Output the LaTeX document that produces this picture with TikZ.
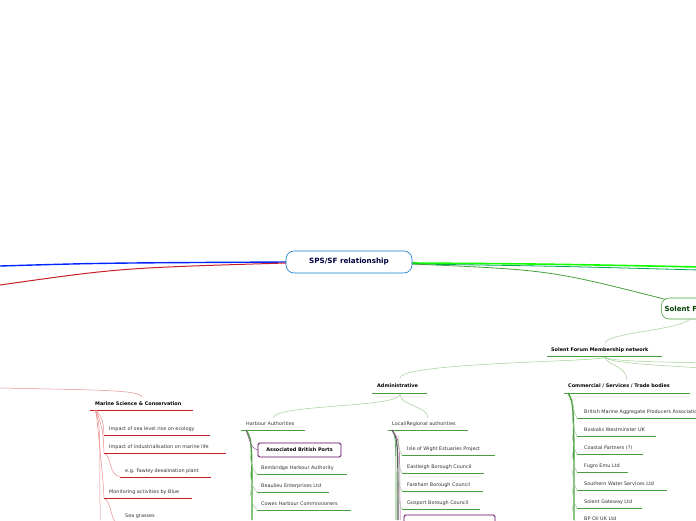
\documentclass[tikz,border=0pt]{standalone}
\usepackage{fontspec}
\setmainfont{DejaVu Sans}
\definecolor{ugreen}{RGB}{70,160,60}
\definecolor{ured}{RGB}{200,30,40}
\definecolor{lgreen}{RGB}{160,205,150}
\definecolor{lred}{RGB}{230,140,140}
\begin{document}
\begin{tikzpicture}[x=1pt,y=-1pt,
  lbl/.style={font=\fontsize{4.9}{5}\selectfont,text=black!80,anchor=west,inner sep=0pt},
  hd/.style={lbl,font=\fontsize{4.9}{5}\selectfont\bfseries,text=black},
  gl/.style={draw=ugreen,line width=0.9pt},
  rl/.style={draw=ured,line width=0.9pt},
  gc/.style={draw=lgreen,line width=0.5pt},
  rc/.style={draw=lred,line width=0.5pt}]
\useasboundingbox (0,0) rectangle (696,520);
\clip (0,0) rectangle (696,520);
% main branches
\draw[blue!85!cyan,line width=1.4pt] (0,266) .. controls (100,263) .. (286,262);
\draw[ured,line width=1pt] (0,285) .. controls (120,268) .. (286,263);
\draw[green!90!lime,line width=1.6pt] (412,263) .. controls (550,264) .. (700,267);
\draw[teal!70!green,line width=0.8pt] (412,264) .. controls (550,266) .. (700,270);
\draw[ugreen,line width=0.8pt] (412,264) .. controls (550,270) .. (668,300);
\node[draw=cyan!60!blue,fill=white,rounded corners=8pt,line width=0.6pt,minimum width=126pt,minimum height=22pt,font=\fontsize{7.2}{8}\selectfont\bfseries,text=blue!25!black] (root) at (349,262) {SPS/SF relationship};
\node[draw=ugreen,fill=white,rounded corners=8pt,line width=0.6pt,anchor=west,minimum height=21pt,font=\fontsize{7}{8}\selectfont\bfseries,text=green!25!black,text width=100pt] (sf) at (661,308.5) {Solent Forum};
% membership
\node[hd] (mem) at (551,350) {Solent Forum Membership network};
\draw[gl] (547,356) -- (662,356);
\draw[gc] (605,343) .. controls (606,333) and (680,330) .. (690,319);
\draw[gc] (605,357) .. controls (605,362) and (402,362) .. (400,378);
\draw[gc] (605,357) .. controls (606,365) and (627,366) .. (627,380);
\draw[gc] (605,357) .. controls (608,362) and (680,362) .. (700,363);
\draw[gc] (605,357) .. controls (608,364) and (680,366) .. (700,368);
% administrative
\node[hd] (adm) at (377,386) {Administrative};
\draw[gl] (372,393) -- (427,393);
\draw[gc] (400,394) .. controls (400,408) and (275,404) .. (273,418);
\draw[gc] (400,394) .. controls (400,406) and (428,406) .. (428,418);
\node[lbl] (ha) at (246,424) {Harbour Authorities};
\draw[gl] (241,430) -- (305,430);
\node[lbl] (lr) at (392,424) {Local/Regional authorities};
\draw[gl] (388,430) -- (468,430);
% harbour items
\draw[ugreen,line width=1.4pt] (246,430) .. controls (252,440) .. (252,520);
\draw[violet!70,line width=0.5pt] (246,430) .. controls (252,448) .. (258,450);
\node[draw=violet!75!black,rounded corners=1.5pt,line width=0.9pt,minimum width=83pt,minimum height=14pt,font=\fontsize{4.9}{5}\selectfont\bfseries] (abp) at (299.5,450) {Associated British Ports};
\foreach \t/\y/\e in {Bembridge Harbour Authority/468/347,Beaulieu Enterprises Ltd/486/329,Cowes Harbour Commissioners/504/351}{
  \node[lbl] at (261,\y) {\t};
  \draw[gl] (257,\y+6) -- (\e,\y+6);
  \draw[gc] (250,\y-14) .. controls (252,\y) .. (257,\y+6);}
% local items
\draw[black!65,line width=1.2pt] (392,430) .. controls (398,440) .. (398,520);
\draw[ugreen,line width=0.6pt] (393,430) .. controls (396,440) .. (396,520);
\draw[violet!70,line width=0.5pt] (392,430) .. controls (400,440) .. (400,520);
\foreach \t/\y/\e in {Isle of Wight Estuaries Project/449/495,Eastleigh Borough Council/467/484,Fareham Borough Council/485/483,Gosport Borough Council/503/480}{
  \node[lbl] at (407,\y) {\t};
  \draw[gl] (402,\y+6) -- (\e,\y+6);
  \draw[gc] (398,\y-14) .. controls (399,\y) .. (402,\y+6);}
\draw[violet!75!black,line width=0.9pt,rounded corners=1.5pt] (404,525) -- (404,515) -- (495,515) -- (495,525);
% commercial
\node[hd] (com) at (568,386) {Commercial / Services / Trade bodies};
\draw[gl] (564,393) -- (690,393);
\draw[ugreen,line width=1.4pt] (568,393) .. controls (574,403) .. (574,520);
\foreach \t/\y/\e in {British Marine Aggregate Producers Association/412/720,Boskalis Westminster UK/430/656,Coastal Partners (?)/448/643,Fugro Emu Ltd/466/628,Southern Water Services Ltd/484/667,Solent Gateway Ltd/502/642,BP Oil UK Ltd/519/640}{
  \node[lbl] at (584,\y) {\t};
  \draw[gl] (577,\y+6) -- (\e,\y+6);
  \draw[gc] (572,\y-14) .. controls (574,\y) .. (577,\y+6);}
% marine science
\draw[rc] (0,388) .. controls (100,390) and (140,390) .. (142,397);
\node[hd] (msc) at (95,404) {Marine Science \& Conservation};
\draw[rl] (90,410) -- (193,410);
\draw[rc] (94,410) .. controls (100,420) .. (100,520);
\draw[rc] (96,410) .. controls (103,420) .. (104,435);
\draw[rc] (96,410) .. controls (103,430) .. (104,453);
\draw[rc] (96,410) .. controls (103,480) .. (104,498);
\draw[rc] (104,453) .. controls (112,456) and (108,474) .. (120,477);
\draw[rc] (104,498) .. controls (112,502) and (110,520) .. (118,525);
\foreach \t/\y/\e/\s in {Impact of sea level rise on ecology/429/210/104,Impact of industrialisation on marine life/447/226/104,e.g. Fawley desalination plant/471/211/120,Monitoring activities by Blue/492/192/104}{
  \node[lbl] at (\s+5,\y) {\t};
  \draw[rl] (\s,\y+6) -- (\e,\y+6);}
\node[lbl] at (125,516) {Sea grasses};
\end{tikzpicture}
\end{document}
